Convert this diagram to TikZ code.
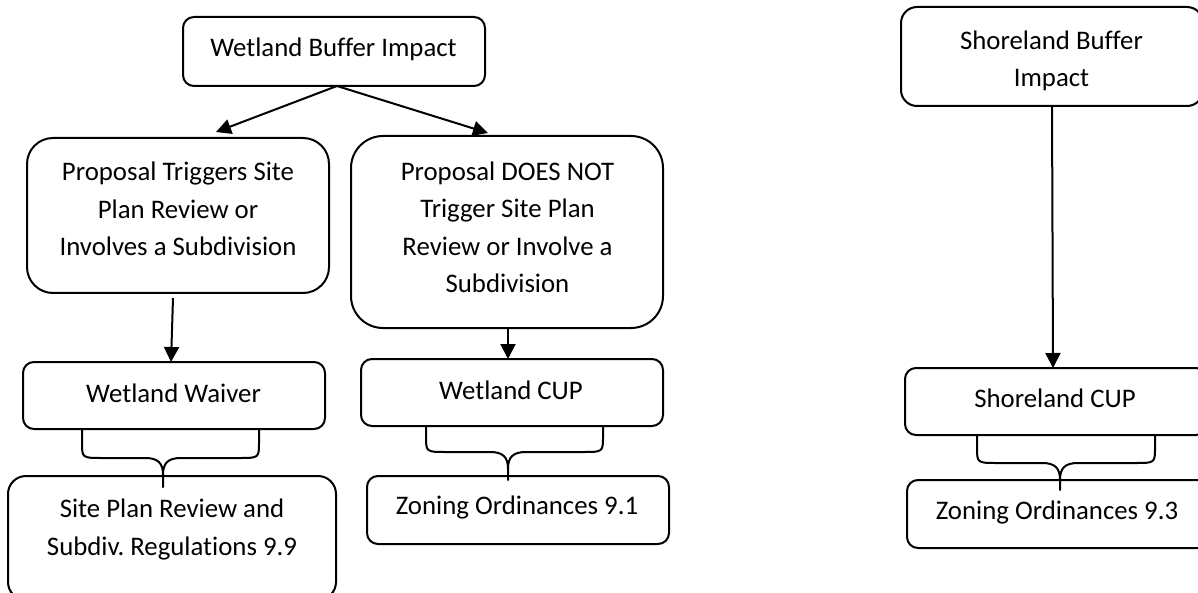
\documentclass[tikz,border=0pt]{standalone}
\usepackage{fontspec}
\setmainfont{Carlito}[Ligatures=NoCommon]
\usetikzlibrary{arrows.meta}
\frenchspacing
\tikzset{
  box/.style={draw, line width=2pt, inner sep=0pt, outer sep=0pt, rounded corners=#1},
  box/.default=11pt,
  lbl/.style={font=\fontsize{26.8}{37.5}\selectfont, align=center, inner sep=0pt, anchor=base},
  arr/.style={line width=2pt, -{Triangle[length=15pt,width=15pt]}},
  brc/.style={line width=2pt, line join=round, line cap=round},
}
\newcommand\drawbrace[6]{%
  \draw[brc] (#1,#3) -- ({#1},{#4-16}) .. controls ({#1},{#4}) .. ({#1+20},{#4})
     -- ({#5-18},{#4}) .. controls ({#5-5},{#4}) and ({#5},{#4+5}) .. ({#5},{#4+17}) -- (#5,#6);
  \draw[brc] (#5,{#4+17}) .. controls ({#5},{#4+5}) and ({#5+5},{#4}) .. ({#5+18},{#4})
     -- ({#2-20},{#4}) .. controls ({#2},{#4}) .. ({#2},{#4-16}) -- (#2,#3);}
\begin{document}
\begin{tikzpicture}[x=1pt,y=-1pt]
\useasboundingbox (0,0) rectangle (1198,593);
\fill[white] (0,0) rectangle (1198,593);
\clip (0,0) rectangle (1198,593);

% boxes
\node[box, minimum width=302pt, minimum height=69pt] (wbi) at (334,51.5) {};
\node[box=26pt, minimum width=302pt, minimum height=155pt] (pt) at (178,215.5) {};
\node[box=32pt, minimum width=312pt, minimum height=192pt] (pd) at (507,232) {};
\node[box, minimum width=302pt, minimum height=67pt] (waiver) at (174,395.5) {};
\node[box, minimum width=302pt, minimum height=67pt] (wcup) at (512,392.5) {};
\node[box=18pt, minimum width=328pt, minimum height=124pt] (site) at (172,538) {};
\node[box, minimum width=302pt, minimum height=68pt] (zna) at (518,510) {};
\node[box=16pt, minimum width=302pt, minimum height=99pt] (shbi) at (1052,56.5) {};
\node[box, minimum width=302pt, minimum height=67pt] (scup) at (1056,401.5) {};
\node[box, minimum width=302pt, minimum height=68pt] (znc) at (1058,514) {};

% texts (base anchor = baseline of the last line)
\node[lbl] (twbi) at (333.5,57) {Wetland Buffer Impact};
\node[lbl] (tpt) at (178,256) {Proposal Triggers Site\\Plan Review or\\Involves a Subdivision};
\node[lbl] (tpd) at (507.5,293) {Proposal DOES NOT\\Trigger Site Plan\\Review or Involve a\\Subdivision};
\node[lbl] (twaiver) at (173.5,402) {Wetland Waiver};
\node[lbl] (twcup) at (511,399) {Wetland CUP};
\node[lbl] (tsite) at (172,555) {Site Plan Review and\\Subdiv. Regulations 9.9};
\node[lbl] (tzna) at (517,514) {Zoning Ordinances 9.1};
\node[lbl] (tshbi) at (1051.5,87) {Shoreland Buffer\\Impact};
\node[lbl] (tscup) at (1055,407) {Shoreland CUP};
\node[lbl] (tznc) at (1057,519) {Zoning Ordinances 9.3};

% arrows
\coordinate (ptin) at (216,132);
\coordinate (pdin) at (488,133);
\draw[arr] ([xshift=3pt]wbi.south) -- (ptin);
\draw[arr] ([xshift=3pt]wbi.south) -- (pdin);
\draw[arr] ([shift={(-5,5)}]pt.south) -- ([xshift=-3pt]waiver.north);
\draw[arr] ([xshift=1pt]pd.south) -- ([xshift=1pt]pd.south |- wcup.north);
\draw[arr] (shbi.south) -- ([xshift=1pt]shbi.south |- scup.north);

% braces
\drawbrace{82}{259}{429}{458}{163}{487}
\drawbrace{426}{603}{426}{452}{508}{480}
\drawbrace{977}{1155}{435}{463}{1060}{490}
\end{tikzpicture}
\end{document}
